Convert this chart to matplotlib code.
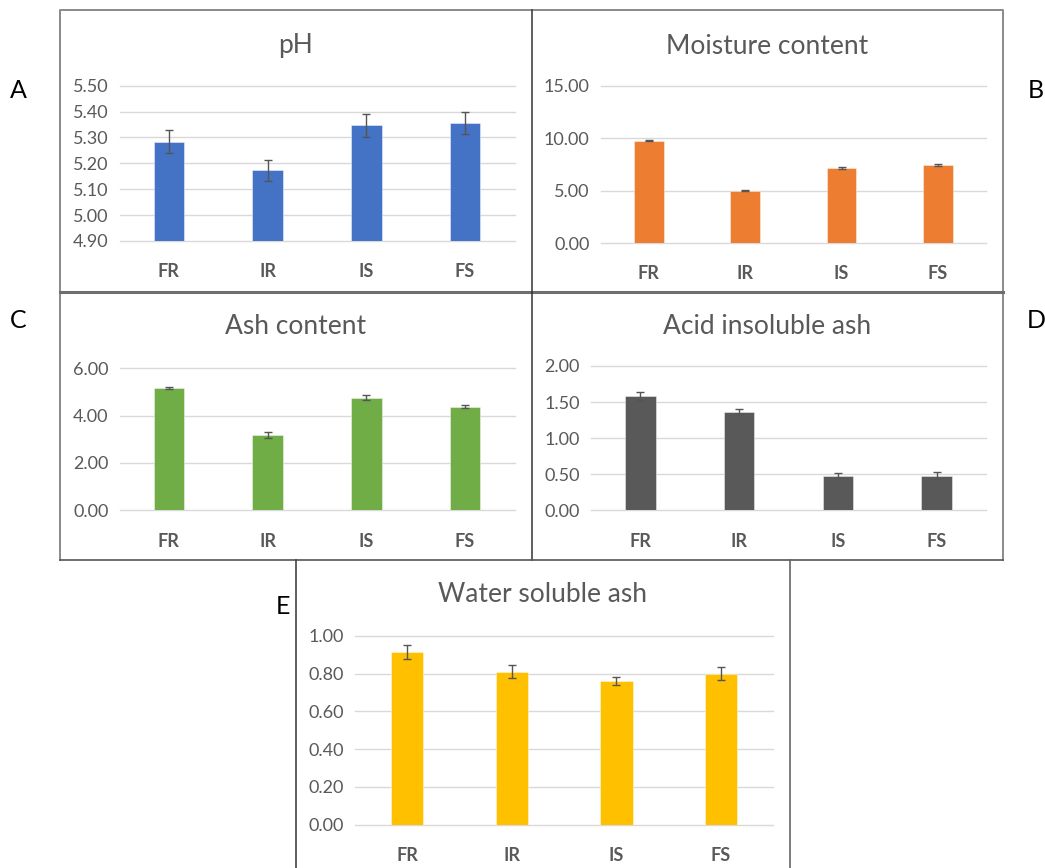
import matplotlib
matplotlib.use("Agg")
import matplotlib.pyplot as plt
from matplotlib.lines import Line2D
import numpy as np

plt.rcParams['font.family'] = ['Lato', 'DejaVu Sans']

categories = ["FR", "IR", "IS", "FS"]

ph_values = [5.284, 5.173, 5.347, 5.356]
ph_errors = [0.043, 0.041, 0.045, 0.041]
ph_ticks = [4.90, 5.00, 5.10, 5.20, 5.30, 5.40, 5.50]

moisture_values = [9.73, 5.00, 7.15, 7.44]
moisture_errors = [0.05, 0.04, 0.05, 0.06]
moisture_ticks = [0.0, 5.0, 10.0, 15.0]

ash_values = [5.17, 3.17, 4.76, 4.37]
ash_errors = [0.06, 0.12, 0.10, 0.06]
ash_ticks = [0.0, 2.0, 4.0, 6.0]

acid_values = [1.58, 1.365, 0.48, 0.48]
acid_errors = [0.055, 0.037, 0.037, 0.045]
acid_ticks = [0.0, 0.5, 1.0, 1.5, 2.0]

water_values = [0.914, 0.810, 0.762, 0.800]
water_errors = [0.037, 0.035, 0.021, 0.034]
water_ticks = [0.0, 0.2, 0.4, 0.6, 0.8, 1.0]

W, H = 1045, 868
fig = plt.figure(figsize=(W / 100, H / 100), dpi=100)
fig.patch.set_facecolor("white")

TEXT = "#595959"
GRID = "#d9d9d9"


def px_axes(x0, y0, x1, y1):
    # axes placed by pixel box (top-left origin)
    return fig.add_axes([x0 / W, 1 - y1 / H, (x1 - x0) / W, (y1 - y0) / H])


def panel(ax, values, errors, ticks, color, title, title_xy):
    x = np.arange(len(categories))
    base = ticks[0]
    ax.bar(x, np.array(values) - base, bottom=base, width=0.31, color=color,
           edgecolor=(1, 1, 1, 0.5), linewidth=0.6, zorder=3)
    ax.errorbar(x, values, yerr=errors, fmt="none", ecolor="#555555",
                elinewidth=1.0, capsize=3.2, capthick=1.0, zorder=4)
    ax.set_xlim(-0.5, len(categories) - 0.5)
    ax.set_ylim(ticks[0], ticks[-1])
    ax.set_yticks(ticks)
    ax.set_yticklabels([f"{t:.2f}" for t in ticks], color=TEXT, fontsize=13)
    ax.set_xticks(x)
    ax.set_xticklabels(categories, color=TEXT, fontsize=13, fontweight="bold")
    ax.tick_params(axis="both", length=0)
    ax.tick_params(axis="x", pad=16)
    ax.tick_params(axis="y", pad=8)
    for s in ax.spines.values():
        s.set_visible(False)
    ax.grid(axis="y", color=GRID, linewidth=1.0, zorder=0)
    ax.set_axisbelow(True)
    for gl in ax.get_ygridlines():
        gl.set_clip_on(False)
    fig.text(title_xy[0] / W, 1 - title_xy[1] / H, title, ha="center", va="center",
             color=TEXT, fontsize=19)


ax1 = px_axes(119.5, 85.7, 514.5, 241.0)
panel(ax1, ph_values, ph_errors, ph_ticks, "#4472C4", "pH", (296, 46))

ax2 = px_axes(600.7, 85.7, 986.0, 243.0)
panel(ax2, moisture_values, moisture_errors, moisture_ticks, "#ED7D31",
      "Moisture content", (767, 46))

ax3 = px_axes(119.5, 368.3, 514.5, 510.3)
panel(ax3, ash_values, ash_errors, ash_ticks, "#70AD47", "Ash content", (296, 327))

ax4 = px_axes(591.0, 366.0, 986.0, 510.3)
panel(ax4, acid_values, acid_errors, acid_ticks, "#595959",
      "Acid insoluble ash", (767, 327))

ax5 = px_axes(355.0, 635.7, 773.3, 824.7)
panel(ax5, water_values, water_errors, water_ticks, "#FFC000",
      "Water soluble ash", (542, 594))


def fline(xs, ys, color, lw):
    fig.add_artist(Line2D([v / W for v in xs], [1 - v / H for v in ys],
                          color=color, linewidth=lw, transform=fig.transFigure))


# panel frames
fline([60, 60, 1003, 1003], [292, 10, 10, 292], "#8a8a8a", 1.4)
fline([60, 60], [292, 560], "#8a8a8a", 1.4)
fline([1003, 1003], [292, 560], "#8a8a8a", 1.4)
fline([60, 1003], [292, 292], "#6e6e6e", 2.2)
fline([531.5, 531.5], [10, 560], "#333333", 1.1)
fline([60, 1003], [560, 560], "#555555", 1.2)
fline([296, 296], [560, 868], "#444444", 1.2)
fline([789.5, 789.5], [560, 868], "#666666", 1.2)

# panel letters
for letter, (lx, ly) in {"A": (18, 90), "B": (1036, 90), "C": (18, 320),
                         "D": (1036, 320), "E": (283, 606)}.items():
    fig.text(lx / W, 1 - ly / H, letter, ha="center", va="center",
             color="black", fontsize=18)

fig.savefig("out.png", dpi=100, facecolor="white")
